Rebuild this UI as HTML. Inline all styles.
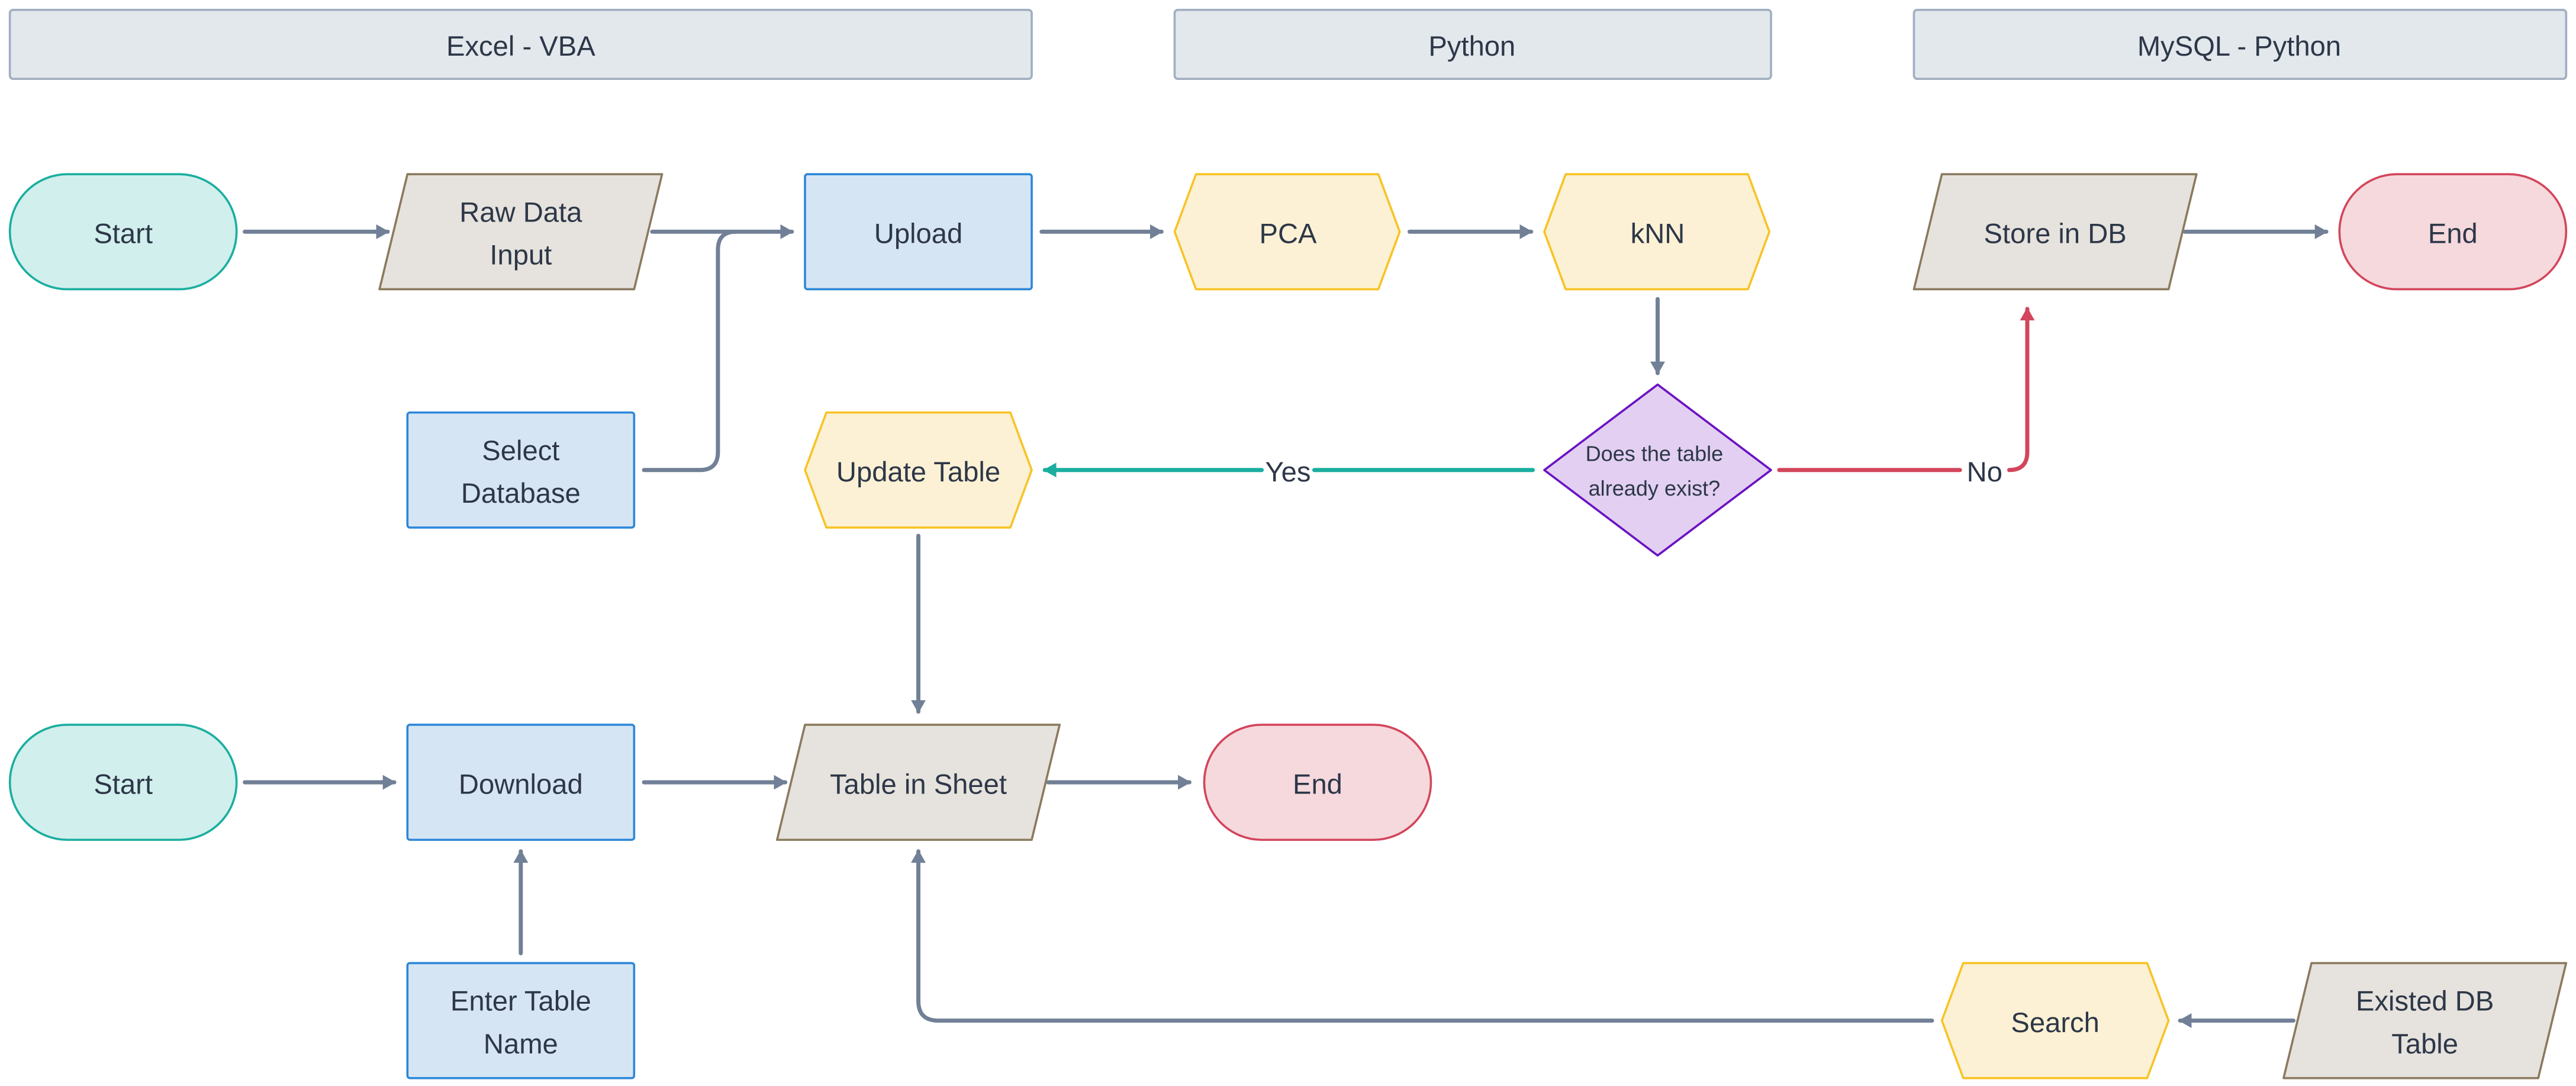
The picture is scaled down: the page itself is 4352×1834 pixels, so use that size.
<!DOCTYPE html>
<html><head><meta charset="utf-8"><style>
html,body{margin:0;padding:0;background:#fff;}
svg{display:block}
text{font-family:"Liberation Sans",sans-serif;fill:#2d3748;text-anchor:middle;dominant-baseline:central}
</style></head><body>
<svg width="4352" height="1834" viewBox="0 0 1568 660.8" preserveAspectRatio="none" xmlns="http://www.w3.org/2000/svg">
<defs>
<marker id="ag" markerWidth="10" markerHeight="10" refX="7" refY="5" orient="auto" markerUnits="userSpaceOnUse"><path d="M0,0.5 L8,5 L0,9.5 Z" fill="#718096"/></marker>
<marker id="at" markerWidth="10" markerHeight="10" refX="7" refY="5" orient="auto" markerUnits="userSpaceOnUse"><path d="M0,0.5 L8,5 L0,9.5 Z" fill="#1aae9f"/></marker>
<marker id="ar" markerWidth="10" markerHeight="10" refX="7" refY="5" orient="auto" markerUnits="userSpaceOnUse"><path d="M0,0.5 L8,5 L0,9.5 Z" fill="#d3455b"/></marker>
</defs>
<g font-size="17">
<g fill="#e2e8ec" stroke="#a0aec0" stroke-width="1.3">
<rect x="6" y="6" width="622" height="42" rx="2"/>
<rect x="715" y="6" width="363" height="42" rx="2"/>
<rect x="1165" y="6" width="397" height="42" rx="2"/>
</g>
<text x="317" y="28">Excel - VBA</text>
<text x="896" y="28">Python</text>
<text x="1363" y="28">MySQL - Python</text>

<g fill="none" stroke="#718096" stroke-width="2.5" stroke-linecap="round">
<path d="M149,141 H236" marker-end="url(#ag)"/>
<path d="M397,141 H482" marker-end="url(#ag)"/>
<path d="M392,286 H426 Q437,286 437,275 V152 Q437,141 448,141"/>
<path d="M634,141 H707" marker-end="url(#ag)"/>
<path d="M858,141 H932" marker-end="url(#ag)"/>
<path d="M1009,182 V227" marker-end="url(#ag)"/>
<path d="M1330,141 H1416" marker-end="url(#ag)"/>
<path d="M559,326 V433" marker-end="url(#ag)"/>
<path d="M149,476 H240" marker-end="url(#ag)"/>
<path d="M392,476 H478" marker-end="url(#ag)"/>
<path d="M638,476 H724" marker-end="url(#ag)"/>
<path d="M317,580 V518" marker-end="url(#ag)"/>
<path d="M1396,621 H1327" marker-end="url(#ag)"/>
<path d="M1176,621 H571 Q559,621 559,609 V518" marker-end="url(#ag)"/>
</g>
<path d="M933,286 H800 M768,286 H636" fill="none" stroke="#1aae9f" stroke-width="2.5" stroke-linecap="round" marker-end="url(#at)"/>
<path d="M1083,286 H1193" fill="none" stroke="#d3455b" stroke-width="2.5" stroke-linecap="round"/>
<path d="M1223,286 Q1234,286 1234,275 V188" fill="none" stroke="#d3455b" stroke-width="2.5" stroke-linecap="round" marker-end="url(#ar)"/>
<text x="784" y="287">Yes</text>
<text x="1208" y="287">No</text>

<g stroke-width="1.3">
<rect x="6" y="106" width="138" height="70" rx="35" fill="#d1efec" stroke="#1aae9f"/>
<rect x="6" y="441" width="138" height="70" rx="35" fill="#d1efec" stroke="#1aae9f"/>
<rect x="1424" y="106" width="138" height="70" rx="35" fill="#f5d9dd" stroke="#d3455b"/>
<rect x="733" y="441" width="138" height="70" rx="35" fill="#f5d9dd" stroke="#d3455b"/>
<g fill="#e6e2dd" stroke="#8a7a5f" stroke-linejoin="round">
<path d="M248,106 H403 L386,176 H231 Z"/>
<path d="M1182,106 H1337 L1320,176 H1165 Z"/>
<path d="M490,441 H645 L628,511 H473 Z"/>
<path d="M1407,586 H1562 L1545,656 H1390 Z"/>
</g>
<g fill="#d6e5f4" stroke="#2d87d8">
<rect x="490" y="106" width="138" height="70" rx="1.5"/>
<rect x="248" y="251" width="138" height="70" rx="1.5"/>
<rect x="248" y="441" width="138" height="70" rx="1.5"/>
<rect x="248" y="586" width="138" height="70" rx="1.5"/>
</g>
<g fill="#fcf1d4" stroke="#f7c325" stroke-linejoin="round">
<path d="M728,106 H839 L852,141 L839,176 H728 L715,141 Z"/>
<path d="M953,106 H1064 L1077,141 L1064,176 H953 L940,141 Z"/>
<path d="M503,251 H615 L628,286 L615,321 H503 L490,286 Z"/>
<path d="M1195,586 H1307 L1320,621 L1307,656 H1195 L1182,621 Z"/>
</g>
<path d="M1009,234 L1078,286 L1009,338 L940,286 Z" fill="#e2cff1" stroke="#6b11c2" stroke-linejoin="round"/>
</g>

<text x="75" y="142">Start</text>
<text x="317" y="129">Raw Data</text>
<text x="317" y="155">Input</text>
<text x="559" y="142">Upload</text>
<text x="784" y="142">PCA</text>
<text x="1009" y="142">kNN</text>
<text x="1251" y="142">Store in DB</text>
<text x="1493" y="142">End</text>
<text x="317" y="274">Select</text>
<text x="317" y="300">Database</text>
<text x="559" y="287">Update Table</text>
<text x="1007" y="276" font-size="13">Does the table</text>
<text x="1007" y="297" font-size="13">already exist?</text>
<text x="75" y="477">Start</text>
<text x="317" y="477">Download</text>
<text x="559" y="477">Table in Sheet</text>
<text x="802" y="477">End</text>
<text x="317" y="609">Enter Table</text>
<text x="317" y="635">Name</text>
<text x="1251" y="622">Search</text>
<text x="1476" y="609">Existed DB</text>
<text x="1476" y="635">Table</text>
</g>
</svg>
</body></html>
